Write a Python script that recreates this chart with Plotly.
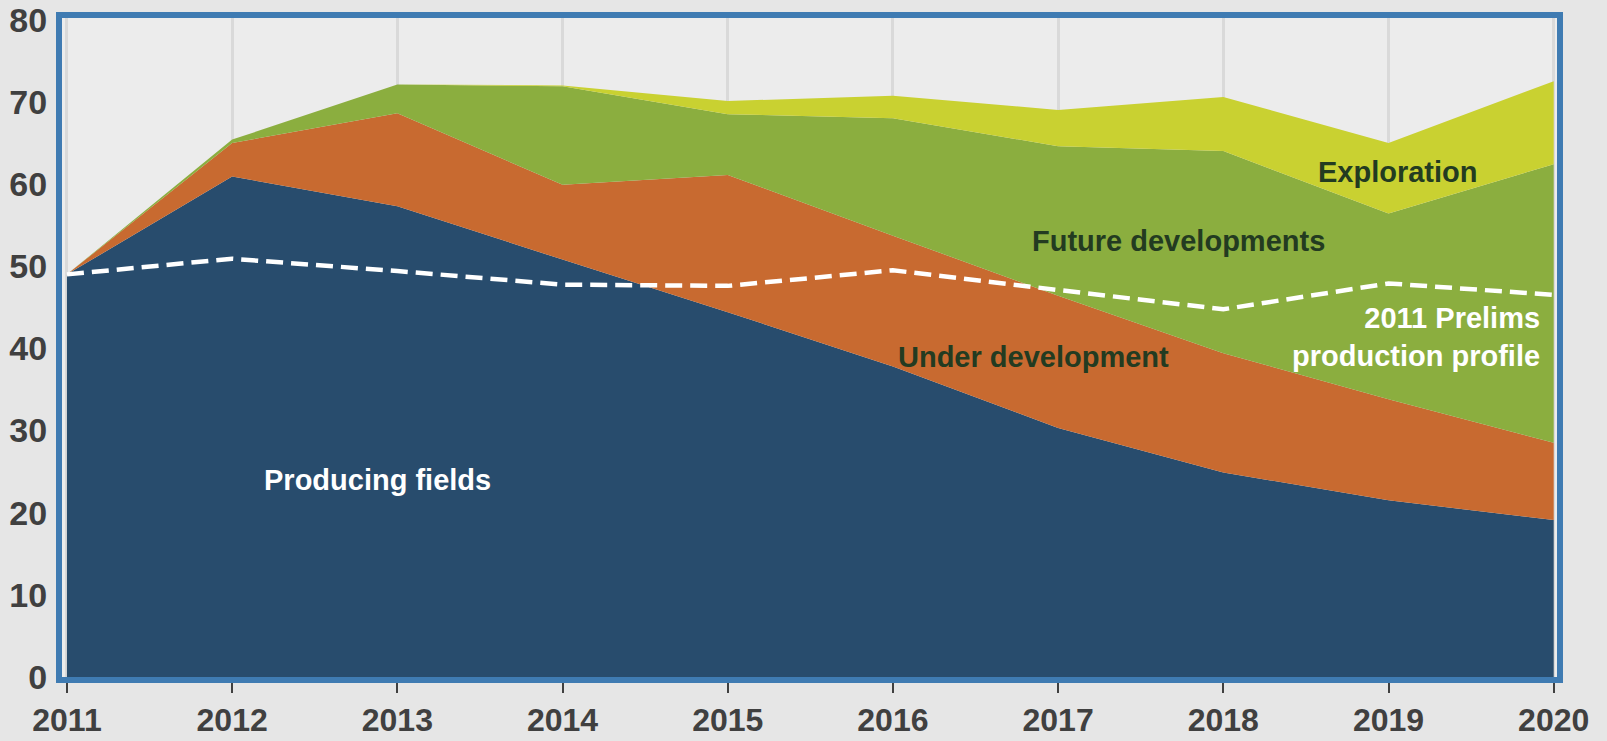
import plotly.graph_objects as go

years = [2011, 2012, 2013, 2014, 2015, 2016, 2017, 2018, 2019, 2020]

# production by category (stacked)
producing_fields = [49.0, 60.9, 57.3, 50.8, 44.4, 37.8, 30.3, 24.9, 21.5, 19.1]
under_development = [0.0, 4.1, 11.3, 9.1, 16.7, 15.9, 16.1, 14.5, 12.3, 9.4]
future_developments = [0.0, 0.4, 3.5, 12.0, 7.4, 14.3, 18.2, 24.6, 22.6, 33.9]
exploration = [0.0, 0.0, 0.0, 0.1, 1.6, 2.75, 4.4, 6.6, 8.6, 10.1]

prelims_2011 = [49.0, 50.9, 49.4, 47.75, 47.6, 49.5, 47.1, 44.75, 47.9, 46.5]

y_ticks = [0, 10, 20, 30, 40, 50, 60, 70, 80]

colors = {
    'Producing fields': '#284C6D',
    'Under development': '#C86A30',
    'Future developments': '#8BAE3F',
    'Exploration': '#C9D131',
}

fig = go.Figure()

for name, vals in [('Producing fields', producing_fields),
                   ('Under development', under_development),
                   ('Future developments', future_developments),
                   ('Exploration', exploration)]:
    fig.add_trace(go.Scatter(x=years, y=vals, name=name, mode='lines',
                             stackgroup='one', line=dict(width=0, color=colors[name]),
                             fillcolor=colors[name]))

fig.add_trace(go.Scatter(x=years, y=prelims_2011, name='2011 Prelims production profile',
                         mode='lines', line=dict(color='white', width=4.5, dash='17px,8px')))

dark_green = '#233B21'
label_font = dict(family='Liberation Sans, Arial', size=29)

fig.add_annotation(x=2012.88, y=24, text='<b>Producing fields</b>', showarrow=False,
                   font=dict(label_font, color='white'))
fig.add_annotation(x=2016.85, y=38.9, text='<b>Under development</b>', showarrow=False,
                   font=dict(label_font, color=dark_green))
fig.add_annotation(x=2017.73, y=53.1, text='<b>Future developments</b>', showarrow=False,
                   font=dict(label_font, color=dark_green))
fig.add_annotation(x=2019.06, y=61.5, text='<b>Exploration</b>', showarrow=False,
                   font=dict(label_font, color=dark_green))
fig.add_annotation(x=2019.93, y=41.4, text='<b>2011 Prelims<br>production profile</b>',
                   showarrow=False, xanchor='right', align='right',
                   font=dict(label_font, color='white'))

grey_text = '#404040'

fig.update_xaxes(range=[2010.97, 2020.02], tickvals=years, ticktext=[f'<b>{y}</b>' for y in years],
                 tickfont=dict(family='Liberation Sans, Arial', size=32, color=grey_text),
                 ticks='outside', ticklen=10, tickwidth=2, tickcolor=grey_text,
                 ticklabelstandoff=0,
                 showgrid=True, gridcolor='#D9D9D9', gridwidth=3, automargin=False,
                 showline=True, mirror=True, linecolor='#3F7BB2', linewidth=6, zeroline=False)
fig.update_yaxes(range=[0, 80.2], tickvals=y_ticks, ticktext=[f'<b>{v}</b>' for v in y_ticks],
                 tickfont=dict(family='Liberation Sans, Arial', size=34, color=grey_text),
                 ticks='', showgrid=False, automargin=False,
                 ticklabelstandoff=2,
                 showline=True, mirror=True, linecolor='#3F7BB2', linewidth=6, zeroline=False)

fig.update_layout(
    width=1607, height=741,
    margin=dict(l=62, r=50, t=18, b=64),
    paper_bgcolor='#E6E6E6',
    plot_bgcolor='#ECECEC',
    showlegend=False,
)

# drop the default page margin so the figure sits at the window's corner
fig.write_html("out.html", config={'displayModeBar': False},
               post_script="document.body.style.margin = '0px';")
